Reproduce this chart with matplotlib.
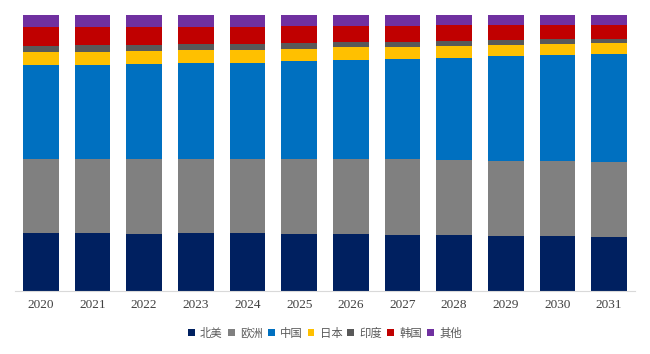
import matplotlib.pyplot as plt
import numpy as np

plt.rcParams['font.family'] = ['Noto Sans CJK SC', 'DejaVu Sans']

years = ['2020', '2021', '2022', '2023', '2024', '2025',
         '2026', '2027', '2028', '2029', '2030', '2031']
regions = ['北美', '欧洲', '中国', '日本', '印度', '韩国', '其他']

# 各地区占比(%)
north_america = [21.1, 21.1, 20.7, 21.1, 21.1, 20.7, 20.7, 20.3, 20.3, 19.9, 19.9, 19.6]
europe = [26.7, 26.7, 27.2, 26.7, 26.7, 27.2, 27.2, 27.5, 27.2, 27.2, 27.2, 27.2]
china = [34.1, 34.1, 34.4, 34.8, 34.8, 35.5, 35.9, 36.2, 37.0, 38.0, 38.4, 39.1]
japan = [4.7, 4.7, 4.7, 4.7, 4.7, 4.3, 4.7, 4.3, 4.3, 4.0, 4.0, 4.0]
india = [2.2, 2.5, 2.2, 2.2, 2.2, 2.2, 1.8, 1.8, 1.8, 1.8, 1.8, 1.4]
korea = [6.9, 6.5, 6.5, 6.2, 6.2, 6.2, 5.8, 5.8, 5.8, 5.4, 5.1, 5.1]
others = [4.3, 4.3, 4.3, 4.3, 4.3, 4.0, 4.0, 4.0, 3.6, 3.6, 3.6, 3.6]

series = [north_america, europe, china, japan, india, korea, others]
colors = ['#002060', '#808080', '#0070C0', '#FFC000', '#595959', '#C00000', '#7030A0']

fig = plt.figure(figsize=(6.5, 3.54), dpi=100)
ax = fig.add_axes([15 / 650, 63 / 354, 620 / 650, 276 / 354])

x = np.arange(len(years))
bottom = np.zeros(len(years))
for name, vals, c in zip(regions, series, colors):
    vals = np.array(vals)
    ax.bar(x, vals, 0.69, bottom=bottom, color=c, label=name)
    bottom += vals

ax.set_xlim(-0.5, len(years) - 0.5)
ax.set_ylim(0, 100)
ax.set_yticks([])
ax.set_xticks(x)
ax.set_xticklabels(years, family='Liberation Serif', fontsize=9.5, color='#404040')
ax.tick_params(axis='x', length=0, pad=6)
for s in ['top', 'right', 'left']:
    ax.spines[s].set_visible(False)
ax.spines['bottom'].set_color('#D9D9D9')

fig.legend(loc='center', bbox_to_anchor=(325 / 650, 1 - 333 / 354), ncol=7,
           frameon=False, fontsize=8.2, handlelength=0.6, handleheight=0.6,
           handletextpad=0.45, columnspacing=0.45, labelcolor='#595959')

fig.savefig('out.png', dpi=100)
